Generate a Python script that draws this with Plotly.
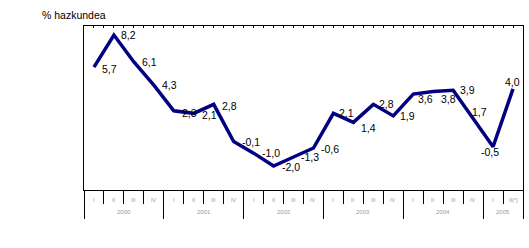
import plotly.graph_objects as go

# ---- data ----
quarters = ["I", "II", "III", "IV"] * 5 + ["I", "II(*)"]
years = ["2000", "2001", "2002", "2003", "2004", "2005"]
year_sizes = [4, 4, 4, 4, 4, 2]
values = [5.7, 8.2, 6.1, 4.3, 2.3, 2.1, 2.8, -0.1, -1.0, -2.0, -1.3, -0.6,
          2.1, 1.4, 2.8, 1.9, 3.6, 3.8, 3.9, 1.7, -0.5, 4.0]
title_text = "% hazkundea"

# ---- label placement (pixel offsets of label left edge / vertical centre) ----
label_dx = [8, 7, 8, 8, 8, 8, 8, 8, 8, 8, 7, 8,
            6, 8, 6, 7, 5, 8, 7, -1, -12, -8]
label_dy = [2, 0, 0, 0, 2, 2, 2, 0, 0, 1, 0, 1,
            0, 6, 0, 0, 5, 7, 0, -6, 5, -7]

x = list(range(len(values)))
labels = [f"{v:.1f}".replace(".", ",") for v in values]

# year boundaries and centers (in category index units)
bounds = [-0.5]
centers = []
for s in year_sizes:
    centers.append(bounds[-1] + s / 2)
    bounds.append(bounds[-1] + s)

W, H = 529, 248
L, R, T, B = 84, 6, 26, 58
ph = H - T - B

def py(pix):
    # pixel y -> paper y
    return (H - B - pix) / ph

fig = go.Figure()
fig.add_trace(go.Scatter(
    x=x, y=values, mode="lines",
    line=dict(color="#000080", width=3.5),
    cliponaxis=False, hoverinfo="skip", showlegend=False,
))
# invisible trace to activate the top tick axis
fig.add_trace(go.Scatter(
    x=x, y=values, mode="lines", xaxis="x2", opacity=0,
    line=dict(width=0), hoverinfo="skip", showlegend=False,
))

annotations = []
for i, lab in enumerate(labels):
    annotations.append(dict(
        x=x[i], y=values[i], xref="x", yref="y", text=lab, showarrow=False,
        xanchor="left", yanchor="middle", xshift=label_dx[i], yshift=-label_dy[i],
        borderpad=0, borderwidth=0,
        font=dict(family="Liberation Sans, Arial", size=10.5, color="black")))
for i, q in enumerate(quarters):
    annotations.append(dict(
        x=x[i], xref="x", y=py(200), yref="paper", text=q, showarrow=False,
        xanchor="center", yanchor="middle",
        font=dict(family="Liberation Sans, Arial", size=5.5, color="#999999")))
for c, yr in zip(centers, years):
    annotations.append(dict(
        x=c, xref="x", y=py(212), yref="paper", text=yr, showarrow=False,
        xanchor="center", yanchor="middle",
        font=dict(family="Liberation Sans, Arial", size=6, color="#999999")))
annotations.append(dict(
    x=(41 - L) / (W - L - R), xref="paper", y=py(15), yref="paper",
    text=title_text, showarrow=False, xanchor="left", yanchor="middle",
    borderpad=0,
    font=dict(family="Liberation Sans, Arial", size=10.5, color="black")))

xr = [-0.5, len(values) - 0.5]
fig.update_layout(
    width=W, height=H,
    margin=dict(l=L, r=R, t=T, b=B, pad=0),
    paper_bgcolor="white", plot_bgcolor="white",
    showlegend=False,
    font=dict(family="Liberation Sans, Arial"),
    xaxis=dict(
        range=xr, showline=True, linecolor="black", linewidth=1, mirror=True,
        showgrid=False, zeroline=False, showticklabels=False,
        tickmode="array", tickvals=bounds, ticks="outside", ticklen=28,
        tickcolor="black", tickwidth=1,
        minor=dict(tickmode="array", tickvals=[i - 0.5 for i in range(len(values) + 1)],
                   ticks="outside", ticklen=13, tickcolor="black", tickwidth=1),
    ),
    xaxis2=dict(
        range=xr, overlaying="x", side="top", anchor="y",
        showline=False, showgrid=False, zeroline=False, showticklabels=False,
        tickmode="linear", tick0=-0.5, dtick=0.5, ticks="inside", ticklen=2,
        tickcolor="black", tickwidth=1,
    ),
    yaxis=dict(
        range=[-3.87, 8.9], showline=True, linecolor="black", linewidth=1,
        mirror=True, showgrid=False, zeroline=False, showticklabels=False,
        ticks="",
    ),
    annotations=annotations,
)

fig.write_html("out.html")
